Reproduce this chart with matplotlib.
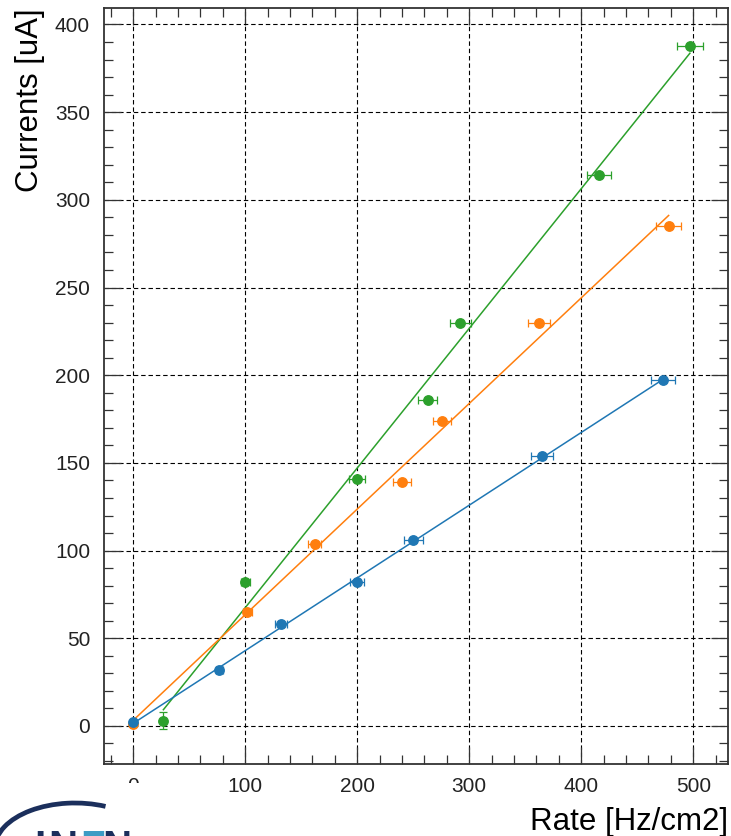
""" currents vs rate plot """

import numpy
import matplotlib
matplotlib.use("Agg")
import matplotlib.pyplot
import matplotlib.patches
import matplotlib.ticker

OUTPUT = "out.png"

# blue series
rate_blue = [0, 77, 132, 200, 250, 365, 473]
curr_blue = [2, 32, 58, 82, 106, 154, 197]
rerr_blue = [1, 3, 5, 6, 8.6, 10, 10.7]
cerr_blue = [1, 1, 1, 1, 1, 1, 1]

# orange series
rate_orange = [0, 102, 162, 240, 276, 362, 478]
curr_orange = [1, 65, 104, 139, 174, 230, 285]
rerr_orange = [1, 4, 6, 7.9, 8, 9.7, 11]
cerr_orange = [1, 1, 1, 1, 1, 1, 1]

# green series
rate_green = [27, 100, 200, 263, 292, 416, 497]
curr_green = [3, 82, 141, 186, 230, 314, 388]
rerr_green = [2, 4, 7, 8.6, 9.4, 11, 11.5]
cerr_green = [5, 1, 1, 1, 1, 1, 1]

XTICKS = [0, 100, 200, 300, 400, 500]
YTICKS = [0, 50, 100, 150, 200, 250, 300, 350, 400]

colors = ["#2ca02c", "#ff7f0e", "#1f77b4"]


def plot_currents():
    matplotlib.pyplot.rcParams["font.family"] = ["Liberation Sans", "DejaVu Sans"]

    fig = matplotlib.pyplot.figure(figsize=(7.31, 8.36), dpi=100)
    ax = fig.add_axes([104 / 731, 72 / 836, 624 / 731, 756 / 836])

    series = [
        (rate_green, curr_green, rerr_green, cerr_green, colors[0]),
        (rate_orange, curr_orange, rerr_orange, cerr_orange, colors[1]),
        (rate_blue, curr_blue, rerr_blue, cerr_blue, colors[2]),
    ]

    for x, y, xe, ye, c in series:
        # linear fit over the measured range
        slope, inter = numpy.polyfit(x, y, 1)
        xs = numpy.array([min(x), max(x)])
        ax.plot(xs, slope * xs + inter, "-", c=c, linewidth=1.1, zorder=3)
        ax.errorbar(x, y, xerr=xe, yerr=ye, fmt="o", color=c, ms=6.8,
                    elinewidth=0.9, capsize=2.6, capthick=0.9, zorder=4)

    ax.set_xlim([-26, 531])
    ax.set_ylim([-21.7, 409.4])
    ax.set_xticks(XTICKS)
    ax.set_yticks(YTICKS)
    ax.xaxis.set_minor_locator(matplotlib.ticker.MultipleLocator(20))
    ax.yaxis.set_minor_locator(matplotlib.ticker.MultipleLocator(10))
    ax.tick_params(which="both", direction="in", top=True, right=True,
                   color="#333333", width=0.9)
    ax.tick_params(which="major", length=12.5, labelsize=15, labelcolor="#222222")
    ax.tick_params(which="minor", length=6.5)
    ax.tick_params(axis="x", which="major", pad=9)
    ax.tick_params(axis="y", which="major", pad=10)

    ax.grid(True, which="major", color="black", linewidth=0.8,
            linestyle=(0, (4, 2.6)), zorder=1)
    ax.set_axisbelow(True)
    for s in ax.spines.values():
        s.set_color("#333333")
        s.set_linewidth(1.3)

    ax.set_ylabel("Currents [uA]", fontsize=22.5, loc="top", labelpad=7)
    ax.set_xlabel("Rate [Hz/cm2]", fontsize=22.5, loc="right", labelpad=8)

    # logo box in the lower left corner
    fig.patches.append(matplotlib.patches.Rectangle(
        (0, 0), 145 / 731, 53 / 836, transform=fig.transFigure,
        facecolor="white", edgecolor="none", zorder=5))
    fig.patches.append(matplotlib.patches.Arc(
        (75 / 731, -12 / 836), 160 / 731, 90 / 836, transform=fig.transFigure,
        theta1=50, theta2=180, color="#1b2f5c", linewidth=3.4, zorder=6))
    logo = [("I", "#1b2f5c"), ("N", "#1b2f5c"), ("F", "#3d9cc4"), ("N", "#1b2f5c")]
    xpos = [34, 48, 80, 102]
    for (ch, col), xp in zip(logo, xpos):
        fig.text(xp / 731, 7 / 836, ch, color=col, fontsize=29,
                 fontweight="bold", va="top", ha="left", zorder=7)

    matplotlib.pyplot.savefig(OUTPUT, dpi=100)
    matplotlib.pyplot.close()


if __name__ == "__main__":
    plot_currents()
